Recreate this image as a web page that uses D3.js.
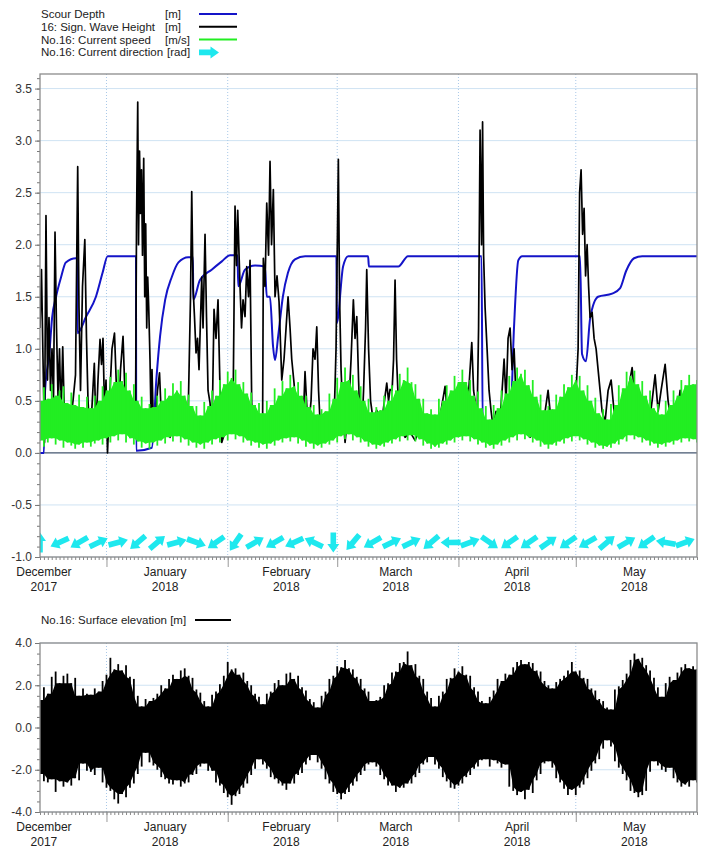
<!DOCTYPE html>
<html>
<head>
<meta charset="utf-8">
<script src="https://cdn.jsdelivr.net/npm/d3@7"></script>
<style>
body { margin:0; background:#fff; }
svg { display:block; font-family:"Liberation Sans", Arial, sans-serif; }
</style>
</head>
<body>
<script>
// ---- data (days counted from 15 Dec 2017) ----
var scourDay = [0,1,1.3,2.4,3.1,4.1,5.4,6.6,9.2,9.5,9.6,11.8,14.3,16.0,17.3,24.55,24.6,28.6,29.8,30.7,32.0,33.7,35.4,37.9,39.1,39.2,40.9,43.9,46.5,48.6,50.5,50.7,52.4,55.0,57.5,58.0,58.8,59.6,60.1,60.9,62.1,63.4,65.2,67.8,75.8,75.9,77.5,78.8,83.9,84.1,91.6,94.1,112.9,113.2,120.2,121.2,122.3,123.3,138.1,138.6,139.6,140.7,142.7,146.3,148.3,149.9,151.9,154.0,168];
var scourDepth = [0,0,0.6,0.96,1.3,1.5,1.69,1.83,1.87,1.87,1.15,1.31,1.5,1.73,1.89,1.89,0.02,0.05,0.73,1.12,1.47,1.69,1.83,1.88,1.88,1.47,1.66,1.76,1.84,1.9,1.9,1.6,1.76,1.8,1.79,1.5,1.5,1.02,0.89,1.12,1.5,1.73,1.86,1.89,1.89,1.25,1.79,1.89,1.89,1.79,1.79,1.89,1.89,0.27,0.27,1.2,1.85,1.89,1.89,0.95,0.88,1.3,1.5,1.53,1.58,1.75,1.87,1.89,1.89];

var waveDay = [0.0,0.38,0.77,1.15,1.53,1.92,2.30,2.69,3.07,3.45,3.84,4.22,4.60,4.99,5.37,5.81,6.27,6.91,7.67,8.44,9.08,9.64,9.97,10.36,10.87,11.46,11.89,12.28,12.79,13.30,13.89,14.32,14.83,15.35,15.73,16.11,16.50,16.88,17.26,17.78,18.41,19.05,19.57,20.08,20.59,21.23,21.74,22.25,23.02,23.79,24.42,24.68,24.99,25.19,25.45,25.70,25.96,26.21,26.52,26.78,27.03,27.29,27.54,27.80,28.13,28.39,28.64,28.90,29.41,30.05,30.56,31.07,31.71,32.48,33.25,34.02,34.78,35.81,36.83,37.85,38.49,38.80,39.13,39.51,39.90,40.28,40.66,41.36,41.69,42.20,42.58,42.97,43.48,43.99,44.50,45.01,45.52,46.04,46.47,47.31,48.08,48.85,49.36,49.87,50.26,50.56,50.90,51.15,51.53,51.92,52.43,52.86,53.32,53.71,54.14,54.48,55.24,56.01,56.91,57.11,57.54,57.98,58.44,58.82,59.21,59.67,60.10,60.61,61.13,61.82,62.40,62.92,63.43,63.94,64.37,64.96,65.47,65.98,66.75,67.26,67.77,68.29,68.80,69.31,69.82,70.33,70.77,71.23,71.61,72.12,72.89,73.66,74.42,75.19,75.70,76.09,76.29,76.60,76.98,77.49,78.01,78.52,79.03,79.54,80.13,80.56,81.00,81.46,81.84,82.28,82.74,83.25,83.55,84.02,84.53,85.17,86.11,86.96,87.72,88.67,89.13,89.51,90.03,90.41,90.79,91.18,91.64,92.07,93.35,94.63,95.91,97.19,98.47,99.74,101.02,102.30,103.58,104.35,105.37,106.39,107.42,108.70,109.46,110.41,110.87,111.25,111.69,112.15,112.53,112.92,113.17,113.43,113.81,114.32,114.83,115.35,115.86,116.62,117.39,118.16,118.67,119.18,119.69,120.20,120.72,121.23,121.74,122.25,123.02,124.04,125.32,126.60,127.88,129.16,129.92,130.69,131.71,132.99,134.27,135.55,136.83,137.60,137.98,138.36,138.75,139.13,139.51,139.90,140.28,140.66,141.18,141.69,142.20,142.71,143.22,143.73,144.50,145.27,146.04,146.80,147.57,148.34,149.36,150.38,151.41,152.17,152.94,153.71,154.48,155.50,156.52,157.29,158.06,158.82,159.85,160.61,161.38,162.40,163.68,164.71,165.73,166.75,168.0];
var waveHeight = [1.2,1.76,0.9,0.1,2.28,0.7,1.3,0.6,1.0,0.5,2.12,1.2,0.55,1.0,0.35,1.02,0.3,0.4,0.25,0.5,0.75,2.75,1.4,0.6,1.6,2.05,1.1,0.5,0.15,0.45,0.86,0.2,0.7,1.09,0.85,1.1,0.4,0.7,0.0,0.5,1.0,1.15,0.6,0.3,0.8,1.12,0.55,0.35,0.25,0.2,0.3,2.2,3.37,2.0,2.9,2.3,2.72,1.9,2.83,1.5,2.2,1.2,1.69,1.4,0.9,0.35,0.8,0.4,0.25,0.6,0.77,0.3,0.2,0.35,0.15,0.3,0.2,0.35,0.25,0.3,1.5,2.51,1.6,1.3,0.96,1.1,0.8,1.69,1.2,2.1,1.3,0.6,0.48,0.2,1.38,1.1,1.47,0.6,0.1,0.2,0.3,0.25,0.4,2.37,1.8,2.33,1.9,1.6,1.2,1.47,1.31,1.79,1.5,1.85,0.48,0.2,0.3,0.2,0.2,1.87,1.6,2.4,1.9,2.8,2.0,2.53,1.5,1.7,1.45,0.7,0.9,1.2,1.5,1.2,0.9,0.67,0.4,0.3,0.4,0.25,0.78,0.4,0.3,0.5,1.0,0.9,1.21,0.6,0.3,0.2,0.2,0.3,0.35,0.3,1.0,2.2,2.82,1.5,0.8,0.35,0.1,0.3,0.5,0.9,1.47,1.1,1.31,0.7,0.3,0.2,0.6,1.2,1.76,1.0,0.5,0.32,0.41,0.25,0.4,0.67,0.5,0.61,0.6,0.9,1.66,0.9,0.48,0.3,0.15,0.2,0.12,0.25,0.15,0.3,0.2,0.35,0.64,0.3,0.2,0.3,0.25,0.35,0.5,1.06,0.6,0.5,0.15,1.2,3.1,2.0,3.18,1.9,1.4,1.0,0.6,0.4,0.25,0.4,0.2,0.6,0.9,0.5,1.1,1.2,0.8,1.0,0.5,0.3,0.2,0.3,0.15,0.25,0.2,0.4,0.6,0.3,0.2,0.3,0.2,0.35,0.4,1.0,2.5,2.72,2.1,2.35,1.7,2.0,1.6,1.3,1.35,1.1,1.0,0.8,0.6,0.4,0.3,0.6,0.7,0.4,0.3,0.2,0.35,0.6,0.82,0.5,0.3,0.55,0.3,0.2,0.5,0.75,0.4,0.6,0.85,0.5,0.3,0.2,0.6,0.4,0.3,0.5,0.45];

// daily max / min of current speed, day 0 .. 168
var speedMax = [0.5,0.63,0.52,0.66,0.55,0.6,0.64,0.48,0.58,0.46,
  0.56,0.44,0.54,0.43,0.55,0.5,0.64,0.6,0.73,0.68,
  0.8,0.69,0.77,0.6,0.66,0.5,0.54,0.43,0.47,0.44,
  0.55,0.5,0.62,0.55,0.67,0.6,0.69,0.55,0.56,0.45,
  0.45,0.36,0.49,0.45,0.6,0.55,0.7,0.66,0.78,0.72,
  0.8,0.66,0.68,0.57,0.58,0.46,0.48,0.38,0.5,0.46,
  0.62,0.55,0.69,0.62,0.75,0.64,0.68,0.55,0.55,0.44,
  0.46,0.37,0.42,0.4,0.57,0.52,0.72,0.68,0.82,0.7,
  0.75,0.6,0.64,0.5,0.52,0.39,0.44,0.41,0.55,0.5,
  0.65,0.6,0.76,0.7,0.82,0.68,0.66,0.52,0.52,0.38,
  0.42,0.37,0.52,0.5,0.65,0.6,0.74,0.68,0.8,0.68,
  0.7,0.55,0.59,0.43,0.45,0.32,0.46,0.43,0.6,0.57,
  0.74,0.69,0.82,0.76,0.8,0.65,0.7,0.54,0.56,0.41,
  0.45,0.42,0.56,0.54,0.66,0.63,0.75,0.7,0.74,0.6,
  0.65,0.5,0.53,0.38,0.42,0.32,0.47,0.46,0.65,0.62,
  0.78,0.74,0.79,0.66,0.69,0.55,0.6,0.43,0.47,0.37,
  0.5,0.46,0.6,0.55,0.7,0.65,0.75,0.66,0.7];
var speedMin = [0.12,0.06,0.1,0.14,0.08,0.12,0.05,0.1,0.07,0.04,
  0.08,0.05,0.1,0.06,0.09,0.12,0.08,0.14,0.1,0.16,
  0.12,0.18,0.1,0.14,0.08,0.11,0.05,0.09,0.04,0.1,
  0.07,0.12,0.09,0.15,0.11,0.16,0.1,0.13,0.07,0.1,
  0.05,0.08,0.04,0.1,0.08,0.13,0.1,0.15,0.12,0.18,
  0.13,0.16,0.1,0.12,0.07,0.1,0.05,0.08,0.04,0.09,
  0.07,0.12,0.1,0.14,0.11,0.15,0.09,0.12,0.06,0.09,
  0.04,0.07,0.05,0.09,0.08,0.12,0.1,0.16,0.13,0.18,
  0.12,0.15,0.1,0.11,0.06,0.08,0.04,0.07,0.06,0.1,
  0.09,0.13,0.11,0.16,0.12,0.17,0.11,0.13,0.07,0.09,
  0.04,0.06,0.05,0.09,0.08,0.12,0.1,0.15,0.12,0.16,
  0.11,0.13,0.08,0.1,0.05,0.07,0.04,0.08,0.07,0.12,
  0.1,0.15,0.12,0.18,0.13,0.15,0.1,0.12,0.06,0.08,
  0.04,0.08,0.07,0.11,0.09,0.14,0.11,0.16,0.12,0.13,
  0.08,0.1,0.05,0.07,0.04,0.06,0.05,0.09,0.08,0.13,
  0.11,0.17,0.13,0.15,0.1,0.12,0.07,0.09,0.05,0.08,
  0.06,0.1,0.08,0.12,0.1,0.14,0.11,0.13,0.1];

// current direction every 5 days [rad, clockwise from north]
var dirDay = d3.range(0, 166, 5);
var dirRad = [0.0,4.28,4.19,1.13,1.31,4.01,0.87,1.31,1.92,4.10,3.75,1.05,4.19,4.28,5.15,3.14,3.84,4.19,1.13,1.13,4.01,4.71,1.22,2.18,4.10,4.10,0.96,4.10,4.19,0.87,1.05,4.10,4.89,1.22];

// daily max / min of surface elevation, day 0 .. 168
var elevMax = [1.3,1.9,1.6,2.4,2.65,2.1,2.45,2.55,2.1,2.35,
  1.5,1.85,1.6,1.55,1.85,1.7,2.2,2.5,3.3,2.75,
  3.0,2.7,2.95,2.4,2.3,1.5,1.0,1.35,1.25,1.4,
  1.6,2.0,1.85,2.3,2.5,2.3,2.7,2.8,2.45,2.35,
  1.8,1.65,1.25,1.0,1.55,1.7,2.05,2.45,3.1,2.75,
  2.8,2.5,2.6,2.2,2.0,1.6,1.45,1.1,1.6,1.7,
  2.1,2.25,2.0,2.55,2.6,2.3,2.45,1.9,1.75,1.35,
  1.2,0.95,1.5,1.7,2.3,2.45,2.9,2.85,3.2,2.8,
  2.75,2.4,2.3,1.85,1.7,1.25,1.3,1.45,2.0,2.1,
  2.6,2.65,3.05,3.1,3.6,2.95,3.0,2.45,2.3,1.7,
  1.4,1.0,1.5,1.7,2.3,2.35,2.8,2.65,2.9,2.5,
  2.45,1.9,1.7,1.25,1.15,1.45,1.75,2.3,2.2,2.55,
  2.5,2.85,3.1,3.2,3.0,3.1,3.05,2.7,2.65,2.2,
  2.0,1.85,2.15,2.3,2.45,2.7,3.1,2.65,2.7,2.35,
  2.3,1.85,1.75,1.35,1.25,0.95,0.85,1.8,1.95,2.25,
  2.55,3.2,3.5,3.25,3.3,2.95,2.7,2.35,1.9,1.45,
  2.1,2.4,2.25,2.6,2.85,3.0,2.8,2.9,2.75];
var elevMin = [-2.2,-2.55,-2.6,-2.45,-3.05,-2.55,-2.8,-2.6,-2.75,-2.4,
  -2.5,-1.7,-2.05,-2.1,-2.25,-1.9,-2.6,-2.85,-3.0,-3.4,
  -3.6,-3.15,-3.3,-2.85,-2.65,-2.2,-1.85,-1.2,-1.65,-1.8,
  -2.0,-2.35,-2.45,-2.65,-2.7,-2.5,-2.8,-2.65,-2.6,-2.25,
  -2.2,-1.85,-1.7,-2.05,-2.05,-2.6,-2.75,-3.1,-3.3,-3.66,
  -3.25,-3.15,-2.85,-2.65,-2.25,-1.95,-1.5,-1.75,-1.95,-2.35,
  -2.45,-2.65,-2.75,-2.95,-2.65,-2.65,-2.25,-2.15,-1.75,-1.55,
  -1.3,-1.65,-1.95,-2.45,-2.65,-3.05,-3.15,-3.4,-3.15,-3.05,
  -2.75,-2.55,-2.25,-2.05,-1.75,-1.65,-1.85,-2.25,-2.45,-2.75,
  -2.75,-3.05,-2.85,-2.85,-2.65,-2.65,-2.35,-2.15,-1.75,-1.65,
  -1.4,-1.75,-1.95,-2.35,-2.55,-2.85,-2.9,-2.75,-2.65,-2.35,
  -2.25,-1.95,-1.85,-1.55,-1.5,-1.85,-1.55,-1.7,-1.9,-1.75,
  -2.8,-3.0,-3.2,-3.05,-3.4,-2.95,-3.1,-2.5,-2.2,-1.7,
  -1.6,-1.9,-2.4,-2.6,-2.9,-3.2,-2.95,-3.2,-2.85,-2.7,
  -2.4,-2.05,-1.7,-1.5,-1.0,-0.6,-0.9,-1.6,-1.9,-2.2,
  -2.5,-3.0,-3.1,-3.3,-3.2,-3.0,-2.1,-1.6,-1.8,-2.0,
  -2.1,-1.9,-2.4,-2.6,-2.8,-2.7,-2.8,-2.5,-2.6];

var topTicks = [-1.0,-0.5,0.0,0.5,1.0,1.5,2.0,2.5,3.0,3.5];
var botTicks = [-4.0,-2.0,0.0,2.0,4.0];

// ---- layout ----
var W = 704, H = 850;
var left = 40, right = 697;
var t0 = Date.UTC(2017, 11, 15), t1 = Date.UTC(2018, 5, 1);
function dayDate(d) { return new Date(t0 + d * 864e5); }

var x = d3.scaleUtc().domain([new Date(t0), new Date(t1)]).range([left, right]);
var yTop = d3.scaleLinear().domain([-1, 3.64]).range([557, 74]);
var yBot = d3.scaleLinear().domain([-4, 4]).range([812, 643]);

var fmt = d3.formatLocale({decimal:".", thousands:",", grouping:[3], currency:["",""], minus:"-"}).format(".1f");
var monthStarts = d3.utcMonth.range(new Date(t0), new Date(t1));
var monthMids = d3.utcMonth.range(d3.utcMonth.floor(new Date(t0)), new Date(t1)).map(function(m) {
  return new Date(Date.UTC(m.getUTCFullYear(), m.getUTCMonth(), 16));
});

var svg = d3.select("body").append("svg").attr("width", W).attr("height", H);

svg.append("clipPath").attr("id", "clipTop")
  .append("rect").attr("x", left).attr("y", yTop.range()[1]).attr("width", right - left).attr("height", yTop.range()[0] - yTop.range()[1]);
svg.append("clipPath").attr("id", "clipBot")
  .append("rect").attr("x", left).attr("y", yBot.range()[1]).attr("width", right - left).attr("height", yBot.range()[0] - yBot.range()[1]);

function frameBack(y, ticks) {
  var g = svg.append("g");
  g.selectAll("line.hg").data(ticks).enter().append("line")
    .attr("x1", left).attr("x2", right)
    .attr("y1", function(d) { return y(d); }).attr("y2", function(d) { return y(d); })
    .attr("stroke", "#cfe3f3").attr("stroke-width", 1);
  g.selectAll("line.vg").data(monthStarts).enter().append("line")
    .attr("x1", function(d) { return x(d); }).attr("x2", function(d) { return x(d); })
    .attr("y1", y.range()[1]).attr("y2", y.range()[0])
    .attr("stroke", "#a9c8e8").attr("stroke-width", 1).attr("stroke-dasharray", "1,2");
  g.append("line").attr("x1", left).attr("x2", right)
    .attr("y1", y(0)).attr("y2", y(0))
    .attr("stroke", "#2c3a52").attr("stroke-width", 1);
}

function frameFront(y, ticks, minorStep) {
  var g = svg.append("g");
  var lo = y.domain()[0], hi = y.domain()[1];
  var minors = d3.range(Math.ceil(lo / minorStep) * minorStep, hi + 1e-9, minorStep);
  g.append("g").attr("transform", "translate(" + left + ",0)")
    .call(d3.axisLeft(y).tickValues(minors).tickSize(3).tickFormat(""))
    .call(function(s) { s.select(".domain").remove(); s.selectAll("line").attr("stroke", "#777"); });
  g.append("g").attr("transform", "translate(" + left + ",0)")
    .call(d3.axisLeft(y).tickValues(ticks).tickSize(5).tickPadding(3).tickFormat(fmt))
    .call(function(s) {
      s.select(".domain").remove();
      s.selectAll("line").attr("stroke", "#777");
      s.selectAll("text").attr("fill", "#333").style("font-size", "12px").style("font-family", "'Liberation Sans', Arial, sans-serif");
    });
  var yb = y.range()[0];
  g.append("g").attr("transform", "translate(0," + yb + ")")
    .call(d3.axisBottom(x).ticks(d3.utcDay.every(1)).tickSize(3).tickFormat(""))
    .call(function(s) { s.select(".domain").remove(); s.selectAll("line").attr("stroke", "#888"); });
  g.append("g").attr("transform", "translate(0," + yb + ")")
    .call(d3.axisBottom(x).tickValues(monthStarts).tickSize(10).tickFormat(""))
    .call(function(s) { s.select(".domain").remove(); s.selectAll("line").attr("stroke", "#999"); });
  g.append("rect").attr("x", left).attr("y", y.range()[1])
    .attr("width", right - left).attr("height", y.range()[0] - y.range()[1])
    .attr("fill", "none").attr("stroke", "#8c8c8c").attr("stroke-width", 1.3);
  var lab = g.selectAll("text.month").data(monthMids).enter().append("text")
    .attr("x", function(d) { return x(d); })
    .attr("text-anchor", "middle").attr("fill", "#222").style("font-size", "12px");
  lab.append("tspan").attr("x", function(d) { return x(d); }).attr("y", yb + 19)
    .text(function(d) { return d3.utcFormat("%B")(d); });
  lab.append("tspan").attr("x", function(d) { return x(d); }).attr("y", yb + 34)
    .text(function(d) { return d3.utcFormat("%Y")(d); });
}

var days = d3.range(0, 169);
// solid core of a dense band: lowest daily max / highest daily min of neighbouring days
function coreHi(arr, d) { return d3.min(arr.slice(Math.max(0, d - 1), d + 2)); }
function coreLo(arr, d) { return d3.max(arr.slice(Math.max(0, d - 1), d + 2)); }

function band(g, y, hiArr, loArr, color, w) {
  g.append("path")
    .datum(days)
    .attr("fill", color)
    .attr("d", d3.area()
      .x(function(d) { return x(dayDate(d)); })
      .y0(function(d) { return y(coreLo(loArr, d)); })
      .y1(function(d) { return y(coreHi(hiArr, d)); }));
  g.selectAll(null).data(days).enter().append("line")
    .attr("x1", function(d) { return x(dayDate(d)); }).attr("x2", function(d) { return x(dayDate(d)); })
    .attr("y1", function(d) { return y(loArr[d]); }).attr("y2", function(d) { return y(hiArr[d]); })
    .attr("stroke", color).attr("stroke-width", w);
}

// ---- top panel ----
frameBack(yTop, topTicks);
var gTop = svg.append("g").attr("clip-path", "url(#clipTop)");

gTop.append("path")
  .datum(d3.zip(scourDay, scourDepth))
  .attr("fill", "none").attr("stroke", "#1414c8").attr("stroke-width", 2)
  .attr("d", d3.line().curve(d3.curveMonotoneX)
    .x(function(d) { return x(dayDate(d[0])); }).y(function(d) { return yTop(d[1]); }));

gTop.append("path")
  .datum(d3.zip(waveDay, waveHeight))
  .attr("fill", "none").attr("stroke", "#000").attr("stroke-width", 1.7).attr("stroke-linejoin", "round")
  .attr("d", d3.line()
    .x(function(d) { return x(dayDate(d[0])); }).y(function(d) { return yTop(d[1]); }));

band(gTop, yTop, speedMax, speedMin, "#22ee22", 1.8);

var arrowPath = "M-2.8,10L2.8,10L2.8,-1.5L6,-1.5L0,-10L-6,-1.5L-2.8,-1.5Z";
gTop.selectAll("path.dir").data(d3.range(dirDay.length)).enter().append("path")
  .attr("d", arrowPath).attr("fill", "#1ee8ee")
  .attr("transform", function(i) {
    return "translate(" + x(dayDate(dirDay[i])) + "," + yTop(-0.86) + ") rotate(" + (dirRad[i] * 180 / Math.PI) + ")";
  });

frameFront(yTop, topTicks, 0.1);

// ---- bottom panel ----
frameBack(yBot, botTicks);
var gBot = svg.append("g").attr("clip-path", "url(#clipBot)");
band(gBot, yBot, elevMax, elevMin, "#000", 1.8);
frameFront(yBot, botTicks, 0.5);

// ---- legends ----
var legTop = [
  {name:"Scour Depth", unit:"[m]", color:"#1414c8"},
  {name:"16: Sign. Wave Height", unit:"[m]", color:"#000"},
  {name:"No.16: Current speed", unit:"[m/s]", color:"#22ee22"},
  {name:"No.16: Current direction", unit:"[rad]", color:null}
];
var lg = svg.append("g").style("font-size", "11.5px").attr("fill", "#222");
legTop.forEach(function(d, i) {
  var yy = 14 + i * 12.8;
  var t = lg.append("text").attr("x", 41).attr("y", yy + 4).text(d.name);
  var ux = d.color ? 165 : t.node().getComputedTextLength() + 41 + 4;
  lg.append("text").attr("x", ux).attr("y", yy + 4).text(d.unit);
  if (d.color) {
    lg.append("line").attr("x1", 199).attr("x2", 237).attr("y1", yy).attr("y2", yy)
      .attr("stroke", d.color).attr("stroke-width", 2);
  } else {
    lg.append("path").attr("d", arrowPath).attr("fill", "#1ee8ee")
      .attr("transform", "translate(209," + yy + ") rotate(90)");
  }
});
lg.append("text").attr("x", 41).attr("y", 624).text("No.16: Surface elevation [m]");
lg.append("line").attr("x1", 195).attr("x2", 231).attr("y1", 620).attr("y2", 620)
  .attr("stroke", "#000").attr("stroke-width", 2);
</script>
</body>
</html>
